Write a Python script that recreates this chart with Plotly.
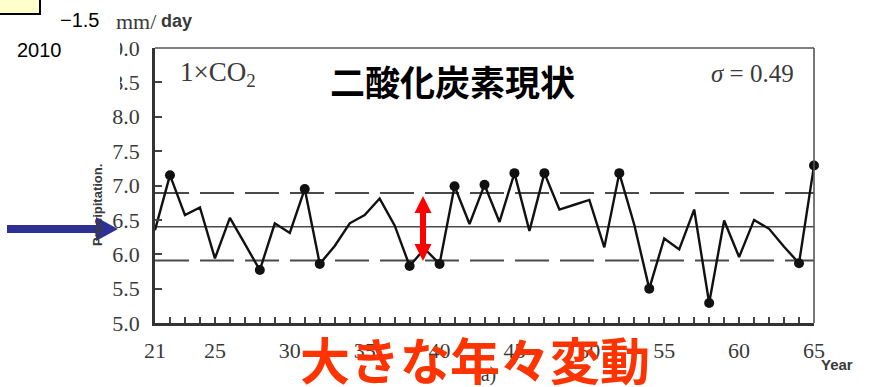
import plotly.graph_objects as go

# Annual precipitation (mm/day), model years 21-65, present-day CO2 run
years = list(range(21, 66))
precip = [
    6.35, 7.15, 6.57, 6.68, 5.94, 6.53, 6.15, 5.77, 6.45, 6.31,
    6.95, 5.86, 6.12, 6.45, 6.57, 6.81, 6.42, 5.83, 6.08, 5.86,
    6.99, 6.44, 7.01, 6.47, 7.18, 6.34, 7.18, 6.65, 6.72, 6.79,
    6.10, 7.18, 6.43, 5.50, 6.23, 6.07, 6.65, 5.29, 6.49, 5.96,
    6.50, 6.37, 6.11, 5.87, 7.29,
]
MEAN = 6.40
SIGMA = 0.49

x_tick_vals = years
x_tick_text = [str(y) if (y == 21 or y % 5 == 0) else "" for y in years]
y_tick_vals = [5.0, 5.5, 6.0, 6.5, 7.0, 7.5, 8.0, 8.5, 9.0]

# Figure geometry (pixels)
FIG_W, FIG_H = 872, 387
ML, MR, MT, MB = 155, 58, 48, 64
PW = FIG_W - ML - MR
PH = FIG_H - MT - MB


def fx(x):
    """pixel x -> paper x"""
    return (x - ML) / PW


def fy(y):
    """pixel y (from top) -> paper y"""
    return (FIG_H - MB - y) / PH


SERIF = "Liberation Serif, DejaVu Serif, serif"
SANS = "Liberation Sans, Arial, sans-serif"
CJK = "Noto Sans CJK JP, sans-serif"
INK = "#3a3a3a"

fig = go.Figure()

# mean and +/- one standard deviation
x_span = [years[0], years[-1]]
fig.add_trace(go.Scatter(x=x_span, y=[MEAN, MEAN], mode="lines",
                         line=dict(color="#4a4a4a", width=1.7),
                         hoverinfo="skip", showlegend=False))
for lvl in (MEAN + SIGMA, MEAN - SIGMA):
    fig.add_trace(go.Scatter(x=x_span, y=[lvl, lvl], mode="lines",
                             line=dict(color="#4a4a4a", width=1.9, dash="34px,11px"),
                             hoverinfo="skip", showlegend=False))

# annual series
fig.add_trace(go.Scatter(x=years, y=precip, mode="lines",
                         line=dict(color="#111111", width=2.4),
                         cliponaxis=False, showlegend=False))

# years outside one standard deviation
ox = [y for y, v in zip(years, precip) if abs(v - MEAN) > SIGMA]
oy = [v for v in precip if abs(v - MEAN) > SIGMA]
fig.add_trace(go.Scatter(x=ox, y=oy, mode="markers",
                         marker=dict(color="#111111", size=10),
                         cliponaxis=False, showlegend=False))

shapes = []
# top and right frame
shapes.append(dict(type="line", xref="paper", yref="paper", x0=0, x1=1, y0=1, y1=1,
                   line=dict(color="#555555", width=1.6)))
shapes.append(dict(type="line", xref="paper", yref="paper", x0=1, x1=1, y0=0, y1=1,
                   line=dict(color="#555555", width=1.6)))

# white cover over the upper-left corner
shapes.append(dict(type="rect", xref="paper", yref="paper",
                   x0=fx(-2), x1=fx(120), y0=fy(110), y1=fy(-2),
                   fillcolor="white", line=dict(width=0), layer="above"))
# pale yellow box in the corner
shapes.append(dict(type="rect", xref="paper", yref="paper",
                   x0=fx(-6), x1=fx(40), y0=fy(14), y1=fy(-6),
                   fillcolor="#FFFFCC", line=dict(color="black", width=2), layer="above"))


def arrow_path(points):
    return "M " + " L ".join(f"{fx(a):.5f},{fy(b):.5f}" for a, b in points) + " Z"


# blue arrow pointing at the axis
blue = [(7, 225), (96, 225), (96, 217), (118, 229), (96, 241), (96, 233), (7, 233)]
shapes.append(dict(type="path", xref="paper", yref="paper", path=arrow_path(blue),
                   fillcolor="#2E3192", line=dict(width=0), layer="above"))

# red double-headed arrow across the +/- sigma band
cx, top, bot = 423, 196, 261
hw, sw, hh = 8.5, 3, 17
red = [(cx, top), (cx + hw, top + hh), (cx + sw, top + hh), (cx + sw, bot - hh),
       (cx + hw, bot - hh), (cx, bot), (cx - hw, bot - hh), (cx - sw, bot - hh),
       (cx - sw, top + hh), (cx - hw, top + hh)]
shapes.append(dict(type="path", xref="paper", yref="paper", path=arrow_path(red),
                   fillcolor="#FF0000", line=dict(width=0), layer="above"))


def note(text, x, y, size, color=INK, family=SERIF, weight="normal", xanchor="center",
         yanchor="middle", angle=0):
    return dict(text=text, xref="paper", yref="paper", x=fx(x), y=fy(y),
                xanchor=xanchor, yanchor=yanchor, showarrow=False, textangle=angle,
                font=dict(size=size, color=color, family=family, weight=weight),
                borderpad=0)


annotations = [
    note("1×CO<sub>2</sub>", 218, 74, 27),
    note("<i>σ</i> = 0.49", 752, 73, 25),
    note("二酸化炭素現状", 452, 80, 35, color="black", family=CJK, weight="bold"),
    note("mm/", 158, 21, 22, xanchor="right"),
    note("day", 160, 21, 18, family=SANS, weight="bold", xanchor="left"),
    note("Precipitation.", 97, 205, 13, family=SANS, weight="bold", angle=-90),
    note("Year", 837, 364, 15, family=SANS, weight="bold"),
    note("(a)", 485, 374, 20),
    note("−1.5", 79, 20, 20, color="black", family=SANS),
    note("2010", 39, 50, 20, color="black", family=SANS),
    note("大きな年々変動", 475, 358, 50, color="#FF3300", family=CJK, weight="bold"),
]

fig.update_layout(
    width=FIG_W, height=FIG_H, autosize=False,
    margin=dict(l=ML, r=MR, t=MT, b=MB, pad=0),
    paper_bgcolor="white", plot_bgcolor="white",
    shapes=shapes, annotations=annotations,
    showlegend=False,
)
fig.update_xaxes(
    range=[years[0], years[-1]], tickmode="array",
    tickvals=x_tick_vals, ticktext=x_tick_text,
    ticks="inside", ticklen=6, tickwidth=1.6, tickcolor="#444444",
    showline=True, linecolor="#333333", linewidth=2.5,
    showgrid=False, zeroline=False, ticklabelstandoff=6,
    tickfont=dict(family=SERIF, size=22, color=INK),
)
fig.update_yaxes(
    range=[5.0, 9.0], tickmode="array", tickvals=y_tick_vals,
    tickformat=".1f",
    ticks="inside", ticklen=7, tickwidth=1.6, tickcolor="#444444",
    showline=True, linecolor="#333333", linewidth=2.5,
    showgrid=False, zeroline=False, ticklabelstandoff=8,
    tickfont=dict(family=SERIF, size=22, color=INK),
)

fig.write_html("out.html")
